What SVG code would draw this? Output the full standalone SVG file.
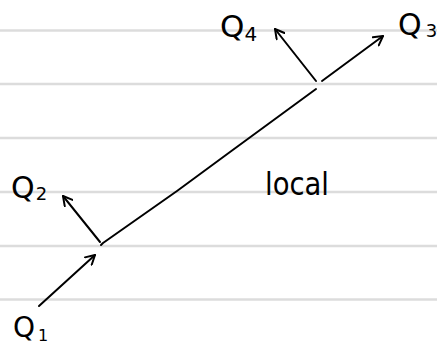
<svg xmlns="http://www.w3.org/2000/svg" width="437" height="344" viewBox="0 0 437 344">
<defs>
<marker id="arr" viewBox="0 0 12 12" refX="10" refY="6" markerWidth="12" markerHeight="12" markerUnits="userSpaceOnUse" orient="auto">
<polyline points="1,1 10,6 1,11" fill="none" stroke="#000" stroke-width="2" stroke-linecap="round" stroke-linejoin="round"/>
</marker>
<style>
.rule{stroke:#dcdcdc;stroke-width:2.5}
.ln{fill:none;stroke:#000;stroke-width:2;stroke-linecap:round;stroke-linejoin:round}
.ar{marker-end:url(#arr)}
.lbl{font-family:"DejaVu Sans",sans-serif;fill:#000}
</style>
</defs>
<rect width="437" height="344" fill="#fff"/>
<g id="paper">
<line class="rule" x1="0" y1="30.5" x2="437" y2="30.5"/>
<line class="rule" x1="0" y1="84" x2="437" y2="84"/>
<line class="rule" x1="0" y1="138" x2="437" y2="138"/>
<line class="rule" x1="0" y1="192" x2="437" y2="192"/>
<line class="rule" x1="0" y1="246" x2="437" y2="246"/>
<line class="rule" x1="0" y1="299.5" x2="437" y2="299.5"/>
</g>
<g id="connectors">
<path class="ln" d="M101,245 L103,243 L177,191 L230,152 L316,89"/>
<line class="ln ar" x1="39" y1="306" x2="95" y2="255"/>
<line class="ln ar" x1="100" y1="242" x2="63" y2="196"/>
<line class="ln ar" x1="316" y1="81" x2="275" y2="29"/>
<line class="ln ar" x1="322" y1="81" x2="383" y2="36"/>
</g>
<g id="Q1"><text class="lbl" x="13" y="337" font-size="28">Q<tspan font-size="16" dy="4" dx="3">1</tspan></text></g>
<g id="Q2"><text class="lbl" x="11" y="198" font-size="30">Q<tspan font-size="18" dy="2" dx="1">2</tspan></text></g>
<g id="Q4"><text class="lbl" x="220" y="37" font-size="31">Q<tspan font-size="20" dy="4">4</tspan></text></g>
<g id="Q3"><text class="lbl" x="398" y="35" font-size="30">Q<tspan font-size="18" dy="2" dx="4">3</tspan></text></g>
<g id="local"><text class="lbl" x="265" y="195" font-size="32" textLength="64" lengthAdjust="spacingAndGlyphs">local</text></g>
</svg>
